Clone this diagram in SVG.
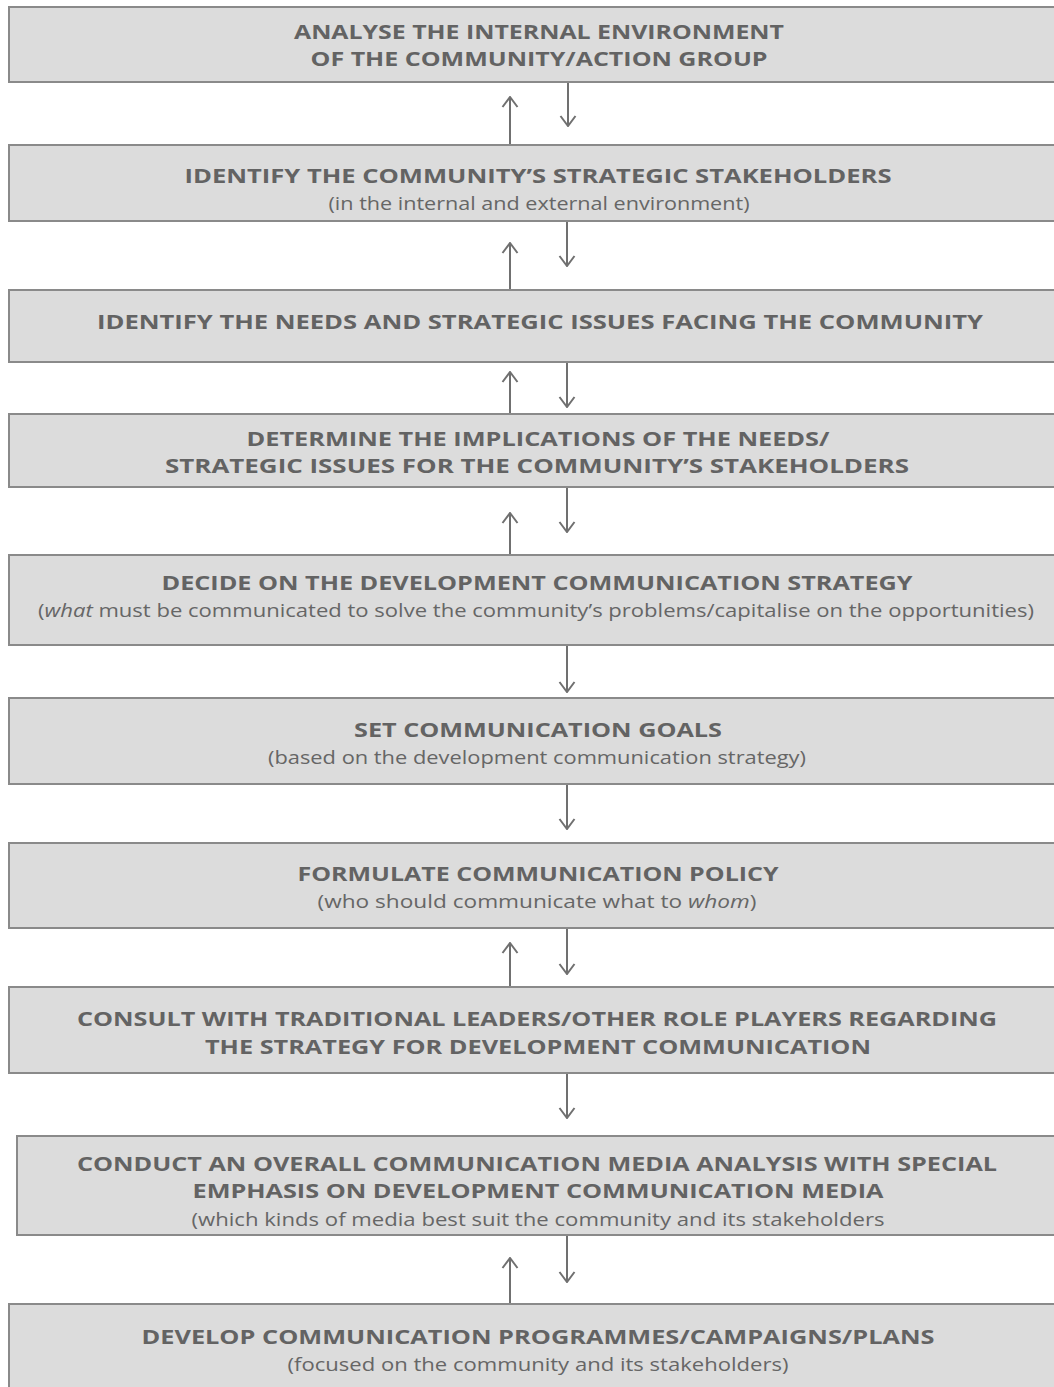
<svg xmlns="http://www.w3.org/2000/svg" width="1054" height="1387" viewBox="0 0 1054 1387">
<defs>
<style>
.box{fill:#dcdcdc;stroke:#8a8a8a;stroke-width:2}
.t{font-family:"Open Sans","Liberation Sans",sans-serif;font-weight:bold;font-size:20px;fill:#636363;text-anchor:middle}
.s{font-family:"Open Sans","Liberation Sans",sans-serif;font-size:17.5px;fill:#666;text-anchor:middle}
.c{stroke:#707070;stroke-width:2;fill:none}
</style>
<marker id="ah" viewBox="0 0 12 18" refX="11" refY="9" markerWidth="12" markerHeight="18" markerUnits="userSpaceOnUse" orient="auto">
<path d="M1,1.5 L11,9 L1,16.5" fill="none" stroke="#707070" stroke-width="2"/>
</marker>
</defs>
<rect width="1054" height="1387" fill="#fff"/>
<g id="connectors">
<line class="c" x1="510" y1="145" x2="510" y2="97" marker-end="url(#ah)"/>
<line class="c" x1="568" y1="82" x2="568" y2="126" marker-end="url(#ah)"/>
<line class="c" x1="510" y1="290" x2="510" y2="243" marker-end="url(#ah)"/>
<line class="c" x1="567" y1="221" x2="567" y2="266" marker-end="url(#ah)"/>
<line class="c" x1="510" y1="414" x2="510" y2="372" marker-end="url(#ah)"/>
<line class="c" x1="567" y1="362" x2="567" y2="407" marker-end="url(#ah)"/>
<line class="c" x1="510" y1="555" x2="510" y2="513" marker-end="url(#ah)"/>
<line class="c" x1="567" y1="487" x2="567" y2="532" marker-end="url(#ah)"/>
<line class="c" x1="567" y1="645" x2="567" y2="692" marker-end="url(#ah)"/>
<line class="c" x1="567" y1="784" x2="567" y2="829" marker-end="url(#ah)"/>
<line class="c" x1="510" y1="987" x2="510" y2="943" marker-end="url(#ah)"/>
<line class="c" x1="567" y1="928" x2="567" y2="974" marker-end="url(#ah)"/>
<line class="c" x1="567" y1="1073" x2="567" y2="1118" marker-end="url(#ah)"/>
<line class="c" x1="510" y1="1304" x2="510" y2="1258" marker-end="url(#ah)"/>
<line class="c" x1="567" y1="1235" x2="567" y2="1282" marker-end="url(#ah)"/>
</g>
<g id="n1">
<rect class="box" x="9" y="7" width="1060" height="75"/>
<text class="t" x="539" y="39" textLength="490" lengthAdjust="spacingAndGlyphs">ANALYSE THE INTERNAL ENVIRONMENT</text>
<text class="t" x="539" y="66" textLength="457" lengthAdjust="spacingAndGlyphs">OF THE COMMUNITY/ACTION GROUP</text>
</g>
<g id="n2">
<rect class="box" x="9" y="145" width="1060" height="76"/>
<text class="t" x="538" y="183" textLength="707" lengthAdjust="spacingAndGlyphs">IDENTIFY THE COMMUNITY’S STRATEGIC STAKEHOLDERS</text>
<text class="s" x="539" y="210" textLength="421" lengthAdjust="spacingAndGlyphs">(in the internal and external environment)</text>
</g>
<g id="n3">
<rect class="box" x="9" y="290" width="1060" height="72"/>
<text class="t" x="540" y="329" textLength="886" lengthAdjust="spacingAndGlyphs">IDENTIFY THE NEEDS AND STRATEGIC ISSUES FACING THE COMMUNITY</text>
</g>
<g id="n4">
<rect class="box" x="9" y="414" width="1060" height="73"/>
<text class="t" x="538" y="446" textLength="583" lengthAdjust="spacingAndGlyphs">DETERMINE THE IMPLICATIONS OF THE NEEDS/</text>
<text class="t" x="537" y="473" textLength="744" lengthAdjust="spacingAndGlyphs">STRATEGIC ISSUES FOR THE COMMUNITY’S STAKEHOLDERS</text>
</g>
<g id="n5">
<rect class="box" x="9" y="555" width="1060" height="90"/>
<text class="t" x="537" y="590" textLength="751" lengthAdjust="spacingAndGlyphs">DECIDE ON THE DEVELOPMENT COMMUNICATION STRATEGY</text>
<text class="s" x="536" y="617" textLength="996" lengthAdjust="spacingAndGlyphs">(<tspan font-style="italic">what</tspan> must be communicated to solve the community’s problems/capitalise on the opportunities)</text>
</g>
<g id="n6">
<rect class="box" x="9" y="698" width="1060" height="86"/>
<text class="t" x="538" y="737" textLength="368" lengthAdjust="spacingAndGlyphs">SET COMMUNICATION GOALS</text>
<text class="s" x="537" y="764" textLength="538" lengthAdjust="spacingAndGlyphs">(based on the development communication strategy)</text>
</g>
<g id="n7">
<rect class="box" x="9" y="843" width="1060" height="85"/>
<text class="t" x="538" y="881" textLength="481" lengthAdjust="spacingAndGlyphs">FORMULATE COMMUNICATION POLICY</text>
<text class="s" x="537" y="908" textLength="439" lengthAdjust="spacingAndGlyphs">(who should communicate what to <tspan font-style="italic">whom</tspan>)</text>
</g>
<g id="n8">
<rect class="box" x="9" y="987" width="1060" height="86"/>
<text class="t" x="537" y="1026" textLength="920" lengthAdjust="spacingAndGlyphs">CONSULT WITH TRADITIONAL LEADERS/OTHER ROLE PLAYERS REGARDING</text>
<text class="t" x="538" y="1054" textLength="666" lengthAdjust="spacingAndGlyphs">THE STRATEGY FOR DEVELOPMENT COMMUNICATION</text>
</g>
<g id="n9">
<rect class="box" x="17" y="1136" width="1060" height="99"/>
<text class="t" x="537" y="1171" textLength="920" lengthAdjust="spacingAndGlyphs">CONDUCT AN OVERALL COMMUNICATION MEDIA ANALYSIS WITH SPECIAL</text>
<text class="t" x="538" y="1198" textLength="691" lengthAdjust="spacingAndGlyphs">EMPHASIS ON DEVELOPMENT COMMUNICATION MEDIA</text>
<text class="s" x="538" y="1226" textLength="693" lengthAdjust="spacingAndGlyphs">(which kinds of media best suit the community and its stakeholders</text>
</g>
<g id="n10">
<rect class="box" x="9" y="1304" width="1060" height="95"/>
<text class="t" x="538" y="1344" textLength="793" lengthAdjust="spacingAndGlyphs">DEVELOP COMMUNICATION PROGRAMMES/CAMPAIGNS/PLANS</text>
<text class="s" x="538" y="1371" textLength="501" lengthAdjust="spacingAndGlyphs">(focused on the community and its stakeholders)</text>
</g>
</svg>
